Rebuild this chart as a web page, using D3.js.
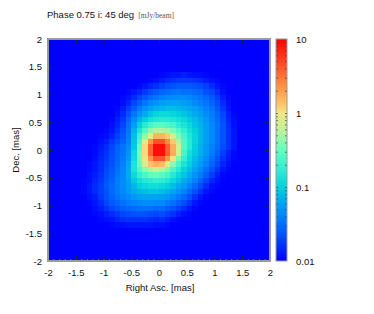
<!DOCTYPE html>
<html>
<head>
<meta charset="utf-8">
<script src="https://cdnjs.cloudflare.com/ajax/libs/d3/7.8.5/d3.min.js"></script>
<style>
  html, body { margin: 0; background: #fff; }
  svg { display: block; }
  text { font-family: "Liberation Sans", Arial, sans-serif; font-size: 9.5px; fill: #111; }
</style>
</head>
<body>
<svg width="374" height="314"></svg>
<script>
var xTicks = [-2, -1.5, -1, -0.5, 0, 0.5, 1, 1.5, 2];
var yTicks = [-2, -1.5, -1, -0.5, 0, 0.5, 1, 1.5, 2];
var barLabels = [0.01, 0.1, 1, 10];
var barMinor = [0.02, 0.03, 0.04, 0.05, 0.06, 0.07, 0.08, 0.09, 0.1,
                0.2, 0.3, 0.4, 0.5, 0.6, 0.7, 0.8, 0.9, 1,
                2, 3, 4, 5, 6, 7, 8, 9];
var paletteAt = [0, 0.1, 0.2, 0.27, 0.33, 0.42, 0.5, 0.6, 0.667, 0.7, 0.78, 0.88, 1];
var palette = ["#0000ff", "#0046ff", "#0082ff", "#00aaf0", "#00d2dc", "#32f0d2", "#64ffbe",
               "#c8f096", "#f0e682", "#ffc86e", "#ff9646", "#ff5028", "#ff0000"];

// map window: rows/columns outside it sit at the bottom of the colour scale
var windowStart = 6;
// height on the colour bar in percent (0 = 0.01, 100 = 10 mJy/beam), top row first
var levels = [
  [0,0,0,0,0,0,0,0,0,0,0,0,0,0, 1,2,3,3,4,3,2,2,1,0,0,0,0,0],
  [0,0,0,0,0,0,0,0,0,0,0,0,1,2, 4,6,7,8,8,8,7,6,4,2,1,0,0,0],
  [0,0,0,0,0,0,0,0,0,0,1,3,5,7, 9,11,12,13,13,13,12,11,9,6,3,1,0,0],
  [0,0,0,0,0,0,0,0,1,3,5,8,11,13, 15,16,17,18,17,17,16,15,12,10,6,2,0,0],
  [0,0,0,0,0,0,0,1,3,6,10,13,16,18, 20,21,22,22,22,21,19,18,16,13,9,4,1,0],
  [0,0,0,0,0,0,0,2,5,10,14,18,21,23, 25,26,26,26,25,24,22,20,18,15,11,6,2,0],
  [0,0,0,0,0,0,1,4,9,14,19,23,26,28, 29,30,30,29,28,27,25,23,20,17,13,8,3,0],
  [0,0,0,0,0,0,2,6,12,18,23,27,31,34, 35,35,34,33,31,29,27,25,22,19,15,10,4,1],
  [0,0,0,0,0,1,4,8,15,22,28,33,37,39, 40,40,39,37,35,32,30,27,24,20,16,11,5,2],
  [0,0,0,0,0,2,5,10,17,25,33,40,45,48, 48,47,45,41,38,35,31,28,25,21,17,12,6,2],
  [0,0,0,0,1,3,7,12,18,28,38,47,54,58, 58,56,52,47,42,37,33,29,25,21,17,12,7,3],
  [0,0,0,1,2,5,9,13,19,30,43,55,66,73, 73,70,62,53,45,39,34,29,25,21,17,12,7,3],
  [0,0,0,2,4,8,11,15,20,31,46,64,78,88, 88,80,70,58,47,40,34,29,25,21,17,12,7,3],
  [0,0,1,3,6,10,14,18,22,32,50,68,85,98, 98,86,74,62,47,40,33,28,24,20,16,11,7,3],
  [0,0,1,4,7,11,15,18,23,35,52,68,85,98, 98,86,74,60,45,37,32,28,24,19,14,9,4,1],
  [0,0,2,5,8,12,15,19,24,36,52,66,78,87, 87,78,66,52,42,35,30,26,22,17,12,7,3,1],
  [0,1,3,6,9,12,16,20,26,38,50,62,71,74, 72,64,54,45,38,33,28,24,20,15,10,5,2,0],
  [0,1,3,6,10,13,17,21,27,38,47,54,58,60, 58,53,46,40,34,30,26,22,17,12,7,3,1,0],
  [0,2,4,7,11,14,18,21,27,35,42,46,49,50, 48,45,40,35,31,27,23,19,14,9,4,1,0,0],
  [1,2,5,8,12,15,19,22,26,32,37,40,41,42, 41,39,35,31,27,24,20,15,10,5,2,0,0,0],
  [1,3,6,9,13,16,19,22,25,29,33,35,36,36, 35,33,30,27,24,20,16,11,6,2,1,0,0,0],
  [1,3,6,9,12,16,19,21,24,27,29,30,31,31, 30,28,26,23,20,16,12,7,3,1,0,0,0,0],
  [0,2,4,8,12,15,18,20,22,24,25,26,26,26, 25,24,22,19,16,12,7,3,1,0,0,0,0,0],
  [0,1,3,6,10,13,15,17,19,20,21,22,22,21, 21,19,17,14,11,7,3,1,0,0,0,0,0,0],
  [0,0,2,4,7,10,12,14,15,16,17,17,17,16, 16,14,12,9,6,3,1,0,0,0,0,0,0,0],
  [0,0,1,2,4,6,8,10,11,12,12,12,11,10, 11,9,7,4,2,1,0,0,0,0,0,0,0,0],
  [0,0,0,1,2,3,5,6,7,7,7,7,6,5, 6,4,2,1,0,0,0,0,0,0,0,0,0,0],
  [0,0,0,0,0,1,2,2,3,3,3,3,3,2, 2,1,0,0,0,0,0,0,0,0,0,0,0,0]
];

var svg = d3.select("svg");

var x = d3.scaleLinear().domain([-2, 2]).range([48, 270]);
var y = d3.scaleLinear().domain([-2, 2]).range([261, 39]);
var col = d3.scaleBand().domain(d3.range(40)).range([48, 270]);
var row = d3.scaleBand().domain(d3.range(40)).range([39, 261]);

var colorPos = d3.scaleLog().domain([0.01, 10]).range([0, 1]);
var ramp = d3.scaleLinear().domain(paletteAt).range(palette);
var barY = d3.scaleLog().domain([0.01, 10]).range([261, 39]);

function fluxAt(r, c) {
  var line = levels[r - windowStart];
  var level = line ? line[c - windowStart] : undefined;
  return 0.01 * Math.pow(10, 3 * (level || 0) / 100);
}

var cells = [];
d3.range(40).forEach(function(r) {
  d3.range(40).forEach(function(c) {
    cells.push({ r: r, c: c, v: fluxAt(r, c) });
  });
});

svg.append("g")
  .attr("shape-rendering", "crispEdges")
  .selectAll("rect")
  .data(cells)
  .enter().append("rect")
    .attr("x", function(d) { return col(d.c); })
    .attr("y", function(d) { return row(d.r); })
    .attr("width", col.bandwidth() + 0.5)
    .attr("height", row.bandwidth() + 0.5)
    .attr("fill", function(d) { return ramp(colorPos(d.v)); });

// colour bar
var grad = svg.append("defs").append("linearGradient")
  .attr("id", "bar").attr("x1", 0).attr("y1", 1).attr("x2", 0).attr("y2", 0);
grad.selectAll("stop")
  .data(paletteAt)
  .enter().append("stop")
    .attr("offset", function(d) { return d; })
    .attr("stop-color", function(d, i) { return palette[i]; });

svg.append("rect")
  .attr("x", 276).attr("y", 39).attr("width", 11).attr("height", 222)
  .attr("fill", "url(#bar)");

// axes
function styleAxis(g, color, width) {
  g.select(".domain").remove();
  g.selectAll("line").attr("stroke", color).attr("stroke-width", width || 1);
}

var fmt = function(d) { return String(d); };

svg.append("g").attr("transform", "translate(0,261)")
  .call(d3.axisBottom(x).tickValues(d3.range(0, 41).map(function(i) { return -2 + i / 10; }))
    .tickSizeInner(-1.5).tickSizeOuter(0).tickFormat(""))
  .call(styleAxis, "#bbb");
svg.append("g").attr("transform", "translate(0,261)")
  .call(d3.axisBottom(x).tickValues(xTicks).tickSizeInner(-5).tickSizeOuter(0)
    .tickPadding(8).tickFormat(fmt))
  .call(styleAxis, "#223");
svg.append("g").attr("transform", "translate(0,39)")
  .call(d3.axisTop(x).tickValues(xTicks).tickSizeInner(-5).tickSizeOuter(0).tickFormat(""))
  .call(styleAxis, "#223");
svg.append("g").attr("transform", "translate(48,0)")
  .call(d3.axisLeft(y).tickValues(yTicks).tickSizeInner(-5).tickSizeOuter(0)
    .tickPadding(6).tickFormat(fmt))
  .call(styleAxis, "#223");
svg.append("g").attr("transform", "translate(270,0)")
  .call(d3.axisRight(y).tickValues(yTicks).tickSizeInner(-5).tickSizeOuter(0).tickFormat(""))
  .call(styleAxis, "#223");

// colour bar ticks
svg.append("g").attr("transform", "translate(276,0)")
  .call(d3.axisLeft(barY).tickValues(barMinor).tickSizeInner(-2).tickSizeOuter(0).tickFormat(""))
  .call(styleAxis, "#333", 0.7);
svg.append("g").attr("transform", "translate(287,0)")
  .call(d3.axisRight(barY).tickValues(barMinor).tickSizeInner(-2).tickSizeOuter(0).tickFormat(""))
  .call(styleAxis, "#333", 0.7);
svg.append("g").attr("transform", "translate(287,0)")
  .call(d3.axisRight(barY).tickValues(barLabels).tickSize(0).tickPadding(9).tickFormat(fmt))
  .call(styleAxis, "#333");

svg.selectAll(".tick text").style("font-size", "9.5px").style("fill", "#111");

// frames
svg.append("rect").attr("x", 48).attr("y", 39).attr("width", 222).attr("height", 222)
  .attr("fill", "none").attr("stroke", "#999").attr("stroke-width", 2);
svg.append("rect").attr("x", 276).attr("y", 39).attr("width", 11).attr("height", 222)
  .attr("fill", "none").attr("stroke", "#999").attr("stroke-width", 1);

// text
var title = svg.append("text").attr("x", 47).attr("y", 18);
title.append("tspan").text("Phase 0.75 i: 45 deg");
title.append("tspan").attr("dx", 4).text("[mJy/beam]")
  .style("font-family", "'Liberation Serif', serif").style("font-size", "7.5px").style("fill", "#555");

svg.append("text").attr("x", 160).attr("y", 291).attr("text-anchor", "middle")
  .text("Right Asc. [mas]");
svg.append("text").attr("transform", "translate(19,150) rotate(-90)").attr("text-anchor", "middle")
  .text("Dec. [mas]");
</script>
</body>
</html>
